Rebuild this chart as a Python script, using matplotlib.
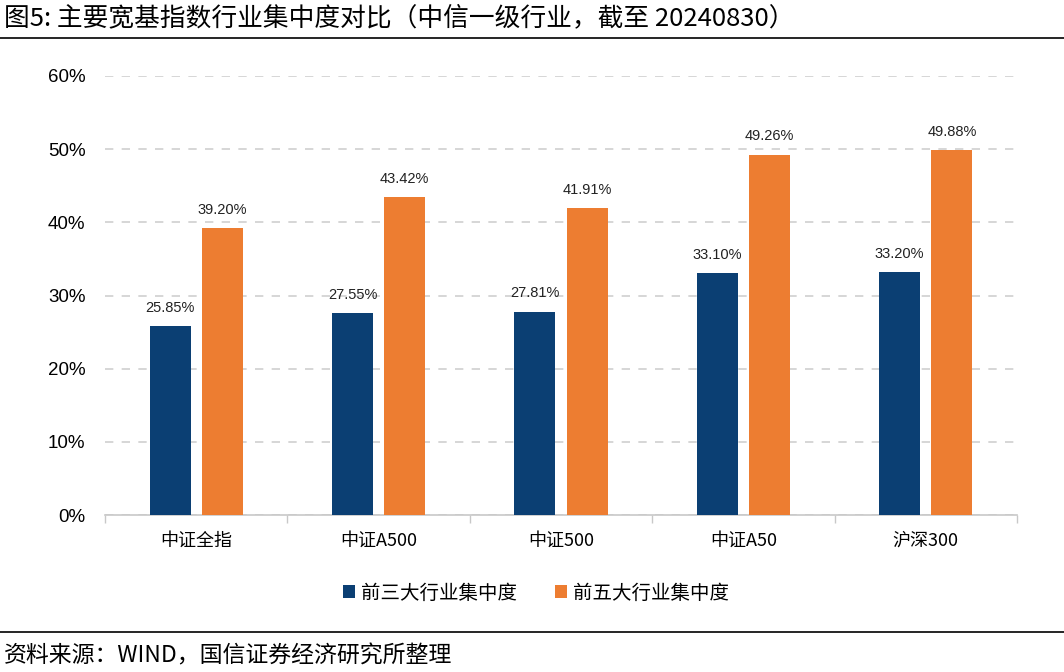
import matplotlib
matplotlib.use("Agg")
import matplotlib.pyplot as plt
import numpy as np

plt.rcParams['font.family'] = ['Noto Sans CJK SC', 'DejaVu Sans']

categories = ["中证全指", "中证A500", "中证500", "中证A50", "沪深300"]
top3 = [25.85, 27.55, 27.81, 33.10, 33.20]
top5 = [39.20, 43.42, 41.91, 49.26, 49.88]
series_names = ["前三大行业集中度", "前五大行业集中度"]
yticks = [0, 10, 20, 30, 40, 50, 60]

blue = "#0B3F73"
orange = "#ED7D31"

fig = plt.figure(figsize=(10.64, 6.72), dpi=100)
ax = fig.add_axes([105/1064, 1-515/672, (1017-105)/1064, (515-76)/672])

x = np.arange(len(categories))
w = 0.225
off = 0.143
b1 = ax.bar(x - off, top3, w, color=blue, label=series_names[0], zorder=3)
b2 = ax.bar(x + off, top5, w, color=orange, label=series_names[1], zorder=3)

for bars, vals in ((b1, top3), (b2, top5)):
    for r, v in zip(bars, vals):
        ax.annotate(f"{v:.2f}%", (r.get_x() + r.get_width()/2, v),
                    xytext=(0, 8), textcoords="offset points",
                    ha="center", va="bottom", fontsize=10.5, color="#222222",
                    family=["Liberation Sans", "DejaVu Sans"])

ax.set_xlim(-0.5, len(categories) - 0.5)
ax.set_ylim(0, 60)
ax.set_yticks(yticks)
ax.set_yticklabels([f"{t}%" for t in yticks], fontsize=13.5,
                   family=["Liberation Sans", "DejaVu Sans"])
ax.yaxis.grid(True, linestyle=(0, (5, 5)), color="#D0D0D0", linewidth=1.2, zorder=0)
ax.tick_params(axis="y", length=0, pad=14)

ax.set_xticks(x)
ax.set_xticklabels(categories, fontsize=13)
ax.tick_params(axis="x", length=0, pad=12)
ax.set_xticks(np.arange(len(categories) + 1) - 0.5, minor=True)
ax.tick_params(axis="x", which="minor", length=6, color="#C8C8C8", width=1)

for s in ["top", "right", "left"]:
    ax.spines[s].set_visible(False)
ax.spines["bottom"].set_color("#C8C8C8")
ax.spines["bottom"].set_linewidth(1.2)

leg = fig.legend(handles=[b1, b2], labels=series_names, loc="center",
                 bbox_to_anchor=(536/1064, 1-593/672), ncol=2, frameon=False,
                 fontsize=14, handlelength=0.6, handleheight=0.6,
                 handletextpad=0.3, columnspacing=2.0)

fig.text(4/1064, 1-18/672, "图5: 主要宽基指数行业集中度对比（中信一级行业，截至 20240830）",
         fontsize=18.5, fontweight="medium", ha="left", va="center", color="#000000")
fig.add_artist(plt.Line2D([0, 1], [1-38/672, 1-38/672], color="black", linewidth=1.2))
fig.add_artist(plt.Line2D([0, 1], [1-632/672, 1-632/672], color="black", linewidth=1.2))
fig.text(4/1064, 1-656/672, "资料来源：WIND，国信证券经济研究所整理",
         fontsize=16.5, ha="left", va="center", color="#000000")

fig.savefig("out.png", dpi=100)
